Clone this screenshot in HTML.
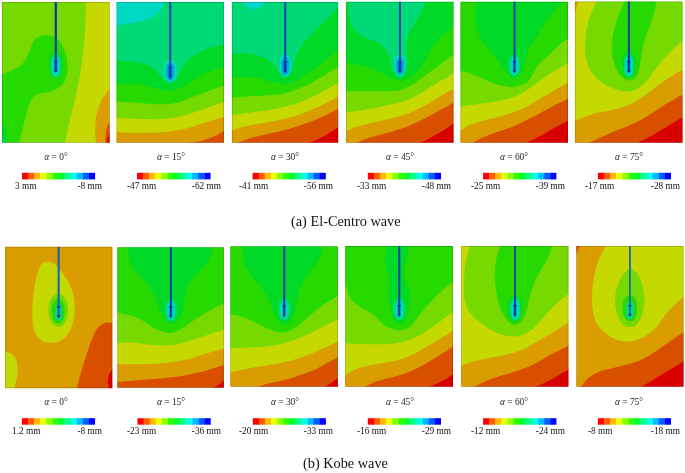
<!DOCTYPE html>
<html><head><meta charset="utf-8"><title>Displacement contours</title>
<style>
html,body{margin:0;padding:0;background:#fff}
body{width:685px;height:473px;position:relative;overflow:hidden;font-family:"Liberation Serif",serif;color:#111}
svg{position:absolute;left:0;top:0}
.a,.v,.c{will-change:transform;opacity:.999}
.a{position:absolute;font-size:9.4px;line-height:10px;white-space:nowrap;transform:translateX(-50%);color:#222}
.a i{font-style:italic}
.v{position:absolute;font-size:9.3px;line-height:10px;white-space:nowrap;color:#111}
.r{transform:translateX(-100%)}
.c{position:absolute;font-size:14.3px;line-height:16px;white-space:nowrap;color:#111}
</style></head><body>
<svg width="685" height="473" viewBox="0 0 685 473">
<defs>
<clipPath id="k0"><rect x="2" y="2" width="107.7" height="140.8"/></clipPath>
<clipPath id="k1"><rect x="116.5" y="2" width="107.5" height="140.8"/></clipPath>
<clipPath id="k2"><rect x="231.9" y="2" width="106.3" height="140.8"/></clipPath>
<clipPath id="k3"><rect x="346.1" y="1.7" width="107.5" height="141.1"/></clipPath>
<clipPath id="k4"><rect x="460.4" y="1.7" width="107.6" height="141.1"/></clipPath>
<clipPath id="k5"><rect x="574.9" y="1.5" width="107.7" height="141.3"/></clipPath>
<clipPath id="k6"><rect x="5" y="246.7" width="107.4" height="141.5"/></clipPath>
<clipPath id="k7"><rect x="117.3" y="247.2" width="106.6" height="140.5"/></clipPath>
<clipPath id="k8"><rect x="230.3" y="246.3" width="107.6" height="140.5"/></clipPath>
<clipPath id="k9"><rect x="345.2" y="246.1" width="107.8" height="140.7"/></clipPath>
<clipPath id="k10"><rect x="461.2" y="246" width="107.3" height="140.8"/></clipPath>
<clipPath id="k11"><rect x="576.3" y="246" width="107.3" height="140.8"/></clipPath>
<filter id="b" x="-5%" y="-5%" width="110%" height="110%"><feGaussianBlur stdDeviation="0.45"/></filter>
<filter id="b2" x="-30%" y="-30%" width="160%" height="160%"><feGaussianBlur stdDeviation="0.7"/></filter>
<filter id="b3" x="-50%" y="-5%" width="200%" height="110%"><feGaussianBlur stdDeviation="0.22"/></filter>
</defs>
<g clip-path="url(#k0)"><g filter="url(#b)"><rect x="-1" y="-1" width="113.7" height="146.8" fill="#76D900"/><path d="M86.6 -6C86.5 -3.3 86.6 -4.3 86.3 2C86 8.3 85.8 21.5 85 31.7C84.2 41.9 83.3 52.8 81.8 63.4C80.3 74 78.1 85.6 76.1 95.1C74.1 104.6 71.6 112.6 69.8 120.5C68 128.4 66.1 137.7 65 142.7C63.9 147.7 63.9 147.9 63.3 150.5L63.3 152.8 L119.7 152.8 L119.7 -8 L86.6 -8 Z" fill="#C5D900"/><path d="M114.2 82.2C112.6 84.4 111.8 85.6 109.6 88.8C107.4 92 103 96.8 100.8 101.5C98.5 106.2 97 112 96.1 117.3C95.1 122.6 95 129 95.1 133.2C95.2 137.4 96.2 139.8 96.7 142.7C97.2 145.6 97.6 148 98 150.6L119.7 152.8 Z" fill="#D99D00"/><path d="M112.7 114.6C111.7 117.1 110.7 119.4 109.6 122C108.5 124.6 106.9 126.5 106.2 130C105.5 133.4 105.5 139.3 105.3 142.7C105.1 146.1 104.9 148 104.7 150.7L119.7 152.8 Z" fill="#D94F00"/><path d="M112.8 126.2C111.8 128.6 110.5 131.5 109.6 133.5C108.7 135.5 108.1 136.5 107.6 138C107.1 139.5 107.2 140.6 106.8 142.7C106.4 144.8 105.9 148 105.5 150.6L119.7 152.8 Z" fill="#D90000"/><path d="M-5.6 78.8C-3.2 77.6 -1.3 76.7 1.6 75.3C4.5 73.9 8.6 72.1 12 70.3C15.4 68.5 19.2 67.3 22.1 64.3C25 61.3 27.1 56.2 29.1 52.2C31.1 48.2 31.8 43 34.1 40.2C36.5 37.4 40.2 36 43.2 35.3C46.2 34.6 49.4 35 52.2 36.1C55.1 37.2 58.1 39.5 60.3 42.2C62.5 44.9 64.1 48.5 65.3 52.2C66.5 55.9 67.3 60.3 67.5 64.3C67.7 68.3 67.5 72.8 66.5 76.3C65.5 79.8 64.1 83 61.5 85.5C58.9 88 54.5 90.2 51 91.5C47.5 92.8 43.2 92.4 40.2 93.4C37.2 94.4 35 95.6 33.1 97.5C31.2 99.4 30.3 101.9 29.1 104.8C27.9 107.7 27.1 111.3 26.1 115C25.1 118.7 24.1 123.1 23.1 127C22.1 130.9 20.8 135.8 20.1 138.4C19.4 141 19.6 140.8 19.1 142.8C18.6 144.8 17.9 148 17.3 150.6L-8 152.8 Z" fill="#27D900"/><path d="M-2.7 117.5C-1.1 119.7 0.5 121.9 2 124C3.5 126.1 5.4 126.9 6.3 130C7.2 133.1 7 139.3 7.2 142.7C7.4 146.1 7.6 148 7.8 150.7L-8 152.8 Z" fill="#00D927"/><path d="M-1.8 128.9C-0.5 131.3 1.1 134.3 2 136C2.9 137.7 3.3 137.9 3.6 139C3.9 140.1 3.7 140.8 3.8 142.7C3.9 144.6 4.1 148 4.2 150.7L-8 152.8 Z" fill="#00D976"/></g><g filter="url(#b2)"><rect x="49.2" y="51.7" width="13.2" height="26.2" rx="6.6" ry="9.6" fill="#00D927"/><rect x="50.6" y="54.8" width="10.4" height="22.4" rx="5.2" ry="7.5" fill="#00D976"/><rect x="51.8" y="57.4" width="8" height="19" rx="4" ry="5.8" fill="#00D9C5" fill-opacity="0.8"/><rect x="53.8" y="61" width="4" height="11.2" rx="2" ry="2.9" fill="#009DD9" fill-opacity="0.6"/></g><g filter="url(#b3)"><rect x="54.7" y="0" width="2.2" height="71.3" fill="#0A36A6"/><rect x="55.9" y="0" width="0.9" height="60.8" fill="#1148BE"/><path d="M53.8 69.8 L57.8 69.8 L55.8 73 Z" fill="#0A2A8C"/><path d="M53.7 60.8 L57.9 60.8 L57 62.6 L54.6 62.6 Z" fill="#0A2A8C"/></g><rect x="2.3" y="2.3" width="107.1" height="140.2" fill="none" stroke="#000" stroke-opacity="0.22" stroke-width="0.8"/></g>
<g clip-path="url(#k1)"><g filter="url(#b)"><rect x="113.5" y="-1" width="113.5" height="146.8" fill="#00D976"/><path d="M108.4 26.7C111 26.3 111.8 26.2 116.3 25.4C120.8 24.6 129.6 23.5 135.4 22.2C141.2 20.9 147 19.5 151.2 17.4C155.4 15.3 158.5 12.1 160.7 9.5C162.9 6.9 163.3 4.1 164.5 1.6C165.7 -0.9 166.8 -3.2 168 -5.6L106.5 -8 Z" fill="#00D9C5"/><path d="M106.5 61C109.8 61 112.4 60.9 116.3 61C120.2 61.1 125.5 60.9 130.1 61.4C134.7 61.9 140.1 62.8 144.1 64.1C148.1 65.4 151.3 66.9 154.2 69.1C157 71.3 159.1 74.9 161.2 77.1C163.3 79.3 164.9 81.1 166.6 82.1C168.3 83.1 169.6 83.6 171.2 83.3C172.8 83 174.8 82 176.3 80.1C177.8 78.2 179 74.8 180.3 72.1C181.6 69.4 182.6 66.4 184.3 64.1C186 61.7 187.6 60 190.3 58C193 56 197 53.8 200.4 52C203.8 50.2 207.1 48.8 211 47.5C214.9 46.2 220 44.9 223.8 44.4C227.6 43.9 230.6 44.4 234 44.4L234 152.8 L106.5 152.8 Z" fill="#00D927"/><path d="M106.5 84.1C109.8 84.1 112.4 84.2 116.3 84.1C120.2 84 125.5 83.5 130.1 83.7C134.7 83.9 139.4 84.2 144.1 85.1C148.8 86 153.8 88.2 158.2 89.2C162.5 90.2 166.5 91.4 170.2 91.2C173.9 91 177 89.7 180.3 88.2C183.7 86.7 187 84.1 190.3 82.1C193.7 80.1 197.1 77.9 200.4 76.1C203.8 74.3 206.5 72.6 210.4 71.1C214.3 69.6 220 67.8 223.9 67.1C227.8 66.4 230.6 67.1 234 67.1L234 152.8 L106.5 152.8 Z" fill="#27D900"/><path d="M106.5 101.8C109.8 101.8 111.7 101.7 116.3 101.8C120.9 101.9 127.8 102.2 134.1 102.6C140.4 103 148.2 104 154.2 104.2C160.2 104.4 165.5 104.3 170.2 103.8C174.9 103.3 178.3 102.4 182.3 101.2C186.3 100 190.3 98.2 194.3 96.6C198.3 95 201.5 93.6 206.4 91.8C211.3 90 219.3 86.8 223.9 85.8C228.5 84.8 230.6 85.8 234 85.8L234 152.8 L106.5 152.8 Z" fill="#76D900"/><path d="M106.5 117.9C109.8 117.9 111.7 117.8 116.3 117.9C120.9 118 127.8 118.5 134.1 118.7C140.4 118.9 148.2 119.4 154.2 119.3C160.2 119.2 165.5 118.9 170.2 118.3C174.9 117.7 178.3 116.9 182.3 115.9C186.3 114.9 190.3 113.6 194.3 112.3C198.3 111 201.5 109.9 206.4 108.2C211.3 106.5 219.3 103.2 223.9 102.2C228.5 101.2 230.6 102.2 234 102.2L234 152.8 L106.5 152.8 Z" fill="#C5D900"/><path d="M106.5 131.9C109.8 131.9 111.7 131.8 116.3 131.9C120.9 132 127.8 132.6 134.1 132.7C140.4 132.8 148.2 132.9 154.2 132.7C160.2 132.5 165.5 131.9 170.2 131.3C174.9 130.7 178.3 130.1 182.3 129.3C186.3 128.5 190.3 127.5 194.3 126.3C198.3 125.1 201.5 123.8 206.4 122.3C211.3 120.8 219.3 118.1 223.9 117.3C228.5 116.5 230.6 117.3 234 117.3L234 152.8 L106.5 152.8 Z" fill="#D99D00"/><path d="M180.4 143.9C183 143.5 185.3 143.2 188.3 142.8C191.3 142.4 195.1 142.1 198.4 141.4C201.8 140.7 205.4 139.4 208.4 138.4C211.4 137.4 213.8 136.6 216.4 135.4C219 134.2 221.5 132.6 223.9 131.3C226.3 130 228.6 128.7 230.9 127.5L234 152.8 Z" fill="#D94F00"/></g><g filter="url(#b2)"><rect x="164.3" y="59.8" width="11.8" height="22" rx="5.9" ry="8.6" fill="#00D9C5"/><rect x="166.2" y="62.5" width="8" height="18" rx="4" ry="5.8" fill="#009DD9" fill-opacity="0.8"/><rect x="168.3" y="66.6" width="3.8" height="9.6" rx="1.9" ry="2.8" fill="#004FD9" fill-opacity="0.6"/></g><g filter="url(#b3)"><rect x="169.3" y="0" width="1.8" height="77.3" fill="#0A36A6"/><rect x="170.3" y="0" width="0.8" height="66.8" fill="#1148BE"/><path d="M168.4 75.8 L172 75.8 L170.2 79 Z" fill="#0A2A8C"/><path d="M168.3 66.8 L172.1 66.8 L171.2 68.6 L169.2 68.6 Z" fill="#0A2A8C"/></g><rect x="116.8" y="2.3" width="106.9" height="140.2" fill="none" stroke="#000" stroke-opacity="0.22" stroke-width="0.8"/></g>
<g clip-path="url(#k2)"><g filter="url(#b)"><rect x="228.9" y="-1" width="112.3" height="146.8" fill="#00D976"/><path d="M237.1 -4.4C238.9 -2.4 240.7 -0.3 242.4 1.6C244.1 3.5 245.1 5.8 247.2 7C249.3 8.2 252.6 9.1 255.1 8.9C257.6 8.7 260.8 6.9 262.4 5.7C264 4.5 263.6 3.5 264.6 1.6C265.6 -0.3 267.1 -3.1 268.4 -5.4L268.4 -8 L237.1 -8 Z" fill="#00D9C5"/><path d="M221.9 53.9C225.3 53.9 227.2 53.9 232 53.9C236.8 53.9 244.7 53.1 250.4 53.9C256.1 54.7 262 56.6 266.2 58.7C270.4 60.8 273.3 64 275.7 66.6C278.1 69.2 278.9 72.6 280.5 74.5C282.1 76.4 283.7 78 285.3 78C286.9 78 288.7 76.4 290 74.5C291.3 72.6 292.1 69.8 293.2 66.6C294.3 63.4 294.5 59.7 296.4 55.5C298.2 51.3 300.9 45.7 304.3 41.2C307.7 36.7 312.8 32.7 317 28.5C321.2 24.3 326.2 19.3 329.7 15.9C333.2 12.5 335.1 9.2 338.2 7.9C341.3 6.6 344.9 7.9 348.2 7.9L348.2 152.8 L221.9 152.8 Z" fill="#00D927"/><path d="M221.9 77.7C225.3 77.7 228.1 77.8 232 77.7C235.9 77.6 240.6 77 245.1 77.1C249.6 77.2 254.4 77.7 259.1 78.5C263.8 79.3 268.9 81.2 273.2 82.1C277.5 83 281.5 84.3 285.2 84.1C288.9 83.9 291.9 82.6 295.3 81.1C298.7 79.6 302 77.3 305.3 75.1C308.6 72.9 312 70.6 315.4 68.1C318.8 65.6 322.4 62.4 325.4 60C328.4 57.6 331.2 55.5 333.4 54C335.6 52.5 336 51.5 338.5 51C341 50.5 345 51 348.2 51L348.2 152.8 L221.9 152.8 Z" fill="#27D900"/><path d="M221.9 97.8C225.3 97.8 227.5 98.1 232 97.8C236.5 97.5 242.9 96.6 249.1 96.2C255.3 95.8 263.2 95.7 269.2 95.2C275.2 94.7 280.5 94.2 285.2 93.2C289.9 92.2 293.3 90.7 297.3 89.2C301.3 87.7 305.3 86.1 309.3 84.1C313.3 82.1 317.4 79.4 321.4 77.1C325.4 74.8 330.5 71.8 333.4 70.1C336.2 68.4 336 67.6 338.5 67.1C341 66.6 345 67.1 348.2 67.1L348.2 152.8 L221.9 152.8 Z" fill="#76D900"/><path d="M221.9 114.7C225.3 114.7 227.5 115 232 114.7C236.5 114.4 242.9 113.5 249.1 112.7C255.3 111.9 263.2 110.9 269.2 109.9C275.2 108.9 280.5 107.7 285.2 106.6C289.9 105.5 293.3 104.6 297.3 103.2C301.3 101.8 305.3 100 309.3 98.2C313.3 96.4 317.4 94.3 321.4 92.2C325.4 90.1 330.5 87.3 333.4 85.8C336.2 84.3 336 83.5 338.5 83.1C341 82.6 345 83.1 348.2 83.1L348.2 152.8 L221.9 152.8 Z" fill="#C5D900"/><path d="M221.9 130.3C225.3 130.3 228.8 130.8 232 130.3C235.2 129.8 237.5 128.2 241 127.3C244.5 126.4 248.4 125.6 253.1 124.7C257.8 123.8 263.8 122.9 269.2 121.9C274.6 120.9 280.5 119.8 285.2 118.7C289.9 117.6 293.3 116.6 297.3 115.3C301.3 114 305.3 112.4 309.3 110.7C313.3 109 317.4 107.1 321.4 105.2C325.4 103.3 330.5 100.6 333.4 99.2C336.2 97.8 336 97 338.5 96.6C341 96.2 345 96.6 348.2 96.6L348.2 152.8 L221.9 152.8 Z" fill="#D99D00"/><path d="M229.5 145.5C232 144.6 233.7 144 237 142.8C240.3 141.6 245.1 139.6 249.1 138.4C253.1 137.2 257.1 136.4 261.1 135.4C265.1 134.4 269.2 133.6 273.2 132.7C277.2 131.8 281.2 131 285.2 129.9C289.2 128.8 293.3 127.6 297.3 126.3C301.3 125 305.3 123.8 309.3 122.3C313.3 120.8 317.4 119.1 321.4 117.3C325.4 115.5 330.5 112.8 333.4 111.3C336.2 109.8 336.5 109.7 338.5 108.6C340.5 107.5 343.2 106.1 345.6 104.9L348.2 152.8 Z" fill="#D94F00"/><path d="M300.8 145.6C303.3 144.7 305.5 143.8 308.3 142.8C311.1 141.8 314.5 140.6 317.4 139.4C320.2 138.2 322.7 136.9 325.4 135.4C328.1 133.9 331.2 131.7 333.4 130.3C335.6 129 336.5 128.5 338.5 127.3C340.5 126.1 343.1 124.6 345.4 123.2L348.2 152.8 Z" fill="#D90000"/></g><g filter="url(#b2)"><rect x="279.3" y="54.3" width="11.8" height="22" rx="5.9" ry="8.6" fill="#00D9C5"/><rect x="281.2" y="57" width="8" height="18" rx="4" ry="5.8" fill="#009DD9" fill-opacity="0.8"/><rect x="283.3" y="61.1" width="3.8" height="9.6" rx="1.9" ry="2.8" fill="#004FD9" fill-opacity="0.6"/></g><g filter="url(#b3)"><rect x="284.3" y="0" width="1.8" height="71.8" fill="#0A36A6"/><rect x="285.4" y="0" width="0.8" height="61.3" fill="#1148BE"/><path d="M283.4 70.3 L287 70.3 L285.2 73.5 Z" fill="#0A2A8C"/><path d="M283.3 61.3 L287.1 61.3 L286.2 63.1 L284.2 63.1 Z" fill="#0A2A8C"/></g><rect x="232.2" y="2.3" width="105.7" height="140.2" fill="none" stroke="#000" stroke-opacity="0.22" stroke-width="0.8"/></g>
<g clip-path="url(#k3)"><g filter="url(#b)"><rect x="343.1" y="-1.3" width="113.5" height="147.1" fill="#00D927"/><path d="M348.8 -6.4C348.9 -3.7 348.9 -2.1 348.9 1.6C348.9 5.3 348.5 12 349 16.1C349.5 20.2 350.3 23.1 352 26.1C353.7 29.1 356.2 31.9 359.1 34.1C362 36.3 365.8 37.7 369.1 39.2C372.5 40.7 376.4 41.4 379.2 43.2C382 45 384.4 47.4 386.2 50.2C388 53.1 389 56.9 390.2 60.3C391.4 63.6 391.6 67.4 393.2 70.3C394.8 73.2 397.7 78.1 399.8 77.8C401.9 77.5 404.8 71.9 406 68.3C407.2 64.7 406.8 60.2 406.9 56.2C407 52.2 406.1 48.2 406.5 44.2C406.9 40.2 407.8 35.8 409.3 32.1C410.8 28.4 413.1 25.8 415.3 22.1C417.5 18.4 420.6 13.4 422.3 10C424 6.6 424.6 4.2 425.6 1.6C426.6 -1 427.6 -3.4 428.5 -5.8L428.5 -8.3 L348.8 -8.3 Z" fill="#00D976"/><path d="M336.1 62.5C339.5 62.5 342.5 62.1 346.3 62.5C350.1 62.9 354.6 64 359.1 65.1C363.6 66.2 368.4 67.3 373.1 69.1C377.8 70.9 382.9 74.2 387.2 76.1C391.5 78 396 80 399.2 80.5C402.4 81 403.9 79.9 406.3 79C408.7 78.1 411 77.1 413.3 75.3C415.6 73.5 418.1 71.1 420.3 68.3C422.5 65.5 424.4 61.7 426.4 58.2C428.4 54.7 429.7 50.8 432.2 47.2C434.7 43.6 437.8 39.9 441.5 36.6C445.2 33.3 450.5 28.9 454.2 27.3C457.9 25.8 460.5 27.3 463.6 27.3L463.6 152.8 L336.1 152.8 Z" fill="#27D900"/><path d="M336.1 91.2C339.5 91.2 341.8 91.2 346.3 91.2C350.8 91.2 357 91.2 363.1 91.2C369.2 91.2 377.2 91.4 383.2 91.2C389.2 91 394.5 91.2 399.2 90.2C403.9 89.2 407.3 87.3 411.3 85.1C415.3 82.9 419.3 79.9 423.3 77.1C427.3 74.3 431.4 71.1 435.4 68.1C439.4 65.1 444.3 61.2 447.4 59C450.5 56.8 451.4 55.7 454.1 55C456.8 54.3 460.4 55 463.6 55L463.6 152.8 L336.1 152.8 Z" fill="#76D900"/><path d="M336.1 112.3C339.5 112.3 341.8 112.7 346.3 112.3C350.8 111.9 357 110.9 363.1 109.9C369.2 108.9 377.2 107.4 383.2 106.2C389.2 105 394.5 103.9 399.2 102.6C403.9 101.3 407.3 100 411.3 98.2C415.3 96.4 419.3 94.2 423.3 91.8C427.3 89.4 431.4 86.5 435.4 84.1C439.4 81.6 444.3 78.9 447.4 77.1C450.5 75.3 451.4 73.8 454.1 73.1C456.8 72.4 460.4 73.1 463.6 73.1L463.6 152.8 L336.1 152.8 Z" fill="#C5D900"/><path d="M336.1 131.3C339.5 131.3 343.2 132 346.3 131.3C349.4 130.6 351.5 128.5 355 127.3C358.5 126.1 362.4 125.1 367.1 123.9C371.8 122.7 377.9 121.6 383.2 120.3C388.5 119 394.5 117.7 399.2 116.3C403.9 114.9 407.3 113.6 411.3 111.9C415.3 110.2 419.3 108.3 423.3 106.2C427.3 104.1 431.4 101.5 435.4 99.2C439.4 96.9 444.3 93.9 447.4 92.2C450.5 90.5 451.4 89.7 454.1 89.2C456.8 88.7 460.4 89.2 463.6 89.2L463.6 152.8 L336.1 152.8 Z" fill="#D99D00"/><path d="M348.6 145.7C351 144.8 352.9 144 356 142.8C359.1 141.6 362.6 139.9 367.1 138.4C371.6 136.9 377.9 135.5 383.2 134C388.5 132.5 394.5 130.9 399.2 129.3C403.9 127.8 407.3 126.4 411.3 124.7C415.3 123 419.3 121.3 423.3 119.3C427.3 117.3 431.4 114.9 435.4 112.7C439.4 110.5 444.3 107.9 447.4 106.2C450.5 104.5 451.8 103.8 454.1 102.6C456.4 101.4 458.8 100.1 461.1 98.8L463.6 152.8 Z" fill="#D94F00"/><path d="M413.1 146.3C415.5 145.1 417.6 144.1 420.3 142.8C423 141.5 426.2 140.1 429.4 138.4C432.6 136.7 436.4 134.4 439.4 132.7C442.4 130.9 444.9 129.5 447.4 127.9C449.8 126.3 451.9 124.8 454.1 123.3C456.3 121.8 458.5 120.3 460.7 118.8L463.6 152.8 Z" fill="#D90000"/></g><g filter="url(#b2)"><rect x="394.1" y="54.3" width="11.8" height="22" rx="5.9" ry="8.6" fill="#00D9C5"/><rect x="396" y="57" width="8" height="18" rx="4" ry="5.8" fill="#009DD9" fill-opacity="0.8"/><rect x="398.1" y="61.1" width="3.8" height="9.6" rx="1.9" ry="2.8" fill="#004FD9" fill-opacity="0.6"/></g><g filter="url(#b3)"><rect x="399.1" y="-0.3" width="1.7" height="72.1" fill="#0A36A6"/><rect x="400.1" y="-0.3" width="0.7" height="61.6" fill="#1148BE"/><path d="M398.2 70.3 L401.7 70.3 L399.9 73.5 Z" fill="#0A2A8C"/><path d="M398.1 61.3 L401.8 61.3 L400.9 63.1 L399 63.1 Z" fill="#0A2A8C"/></g><rect x="346.4" y="2" width="106.9" height="140.5" fill="none" stroke="#000" stroke-opacity="0.22" stroke-width="0.8"/></g>
<g clip-path="url(#k4)"><g filter="url(#b)"><rect x="457.4" y="-1.3" width="113.6" height="147.1" fill="#27D900"/><path d="M478 -6.4C477.7 -3.7 477.5 -2.1 477.1 1.6C476.7 5.3 475.5 11.4 475.5 16.1C475.5 20.9 475.8 25.8 477.1 30.1C478.4 34.5 480.7 38.5 483.1 42.2C485.6 45.9 489 48.9 491.8 52.2C494.6 55.6 497.5 59.1 499.8 62.3C502.1 65.5 503.4 68.6 505.8 71.3C508.2 74 511.4 78.8 514.2 78.6C517 78.4 520.8 73.7 522.8 70.3C524.8 66.9 524.8 62.2 526 58.2C527.2 54.2 528.4 50.3 530.2 46.6C532 42.9 534.7 39.8 536.9 36.1C539.1 32.5 540.8 28.6 543.5 24.7C546.2 20.8 549.9 16.2 553 12.4C556.1 8.6 559.9 4.4 562.3 1.6C564.7 -1.2 565.8 -2.4 567.5 -4.5L567.5 -8.3 L478 -8.3 Z" fill="#00D927"/><path d="M450.4 71.1C453.7 71.1 455.9 70.3 460.4 71.1C464.8 71.9 471.6 74.1 477.1 76.1C482.6 78.1 488.2 81.3 493.2 83.1C498.2 84.8 503.2 86.1 507.2 86.6C511.2 87.1 513.9 86.9 517.3 86.2C520.6 85.5 524.8 84.2 527.3 82.3C529.8 80.3 530.5 77.6 532.5 74.5C534.5 71.4 536.8 66.8 539.5 63.6C542.2 60.4 545.8 58.2 549 55.2C552.2 52.2 555.3 48.4 558.5 45.7C561.7 43 565 39.9 568.2 38.8C571.5 37.6 574.7 38.8 578 38.8L578 152.8 L450.4 152.8 Z" fill="#76D900"/><path d="M450.4 106.2C453.7 106.2 455.9 106.5 460.4 106.2C464.8 105.9 471 105 477.1 104.2C483.2 103.4 491.2 102.4 497.2 101.2C503.2 100 508.5 98.9 513.2 97.2C517.9 95.5 521.3 93.6 525.3 91.2C529.3 88.8 533.3 85.9 537.3 83.1C541.3 80.2 545.4 76.8 549.4 74.1C553.4 71.4 558.3 68.9 561.4 67.1C564.5 65.3 565.4 63.9 568.2 63.3C571 62.7 574.7 63.3 578 63.3L578 152.8 L450.4 152.8 Z" fill="#C5D900"/><path d="M450.4 130.3C453.7 130.3 457.3 131.1 460.4 130.3C463.5 129.5 465.6 126.8 469 125.3C472.4 123.8 476.4 122.6 481.1 121.3C485.8 120 491.8 118.8 497.2 117.3C502.6 115.8 508.5 114 513.2 112.3C517.9 110.6 521.3 109.2 525.3 107.2C529.3 105.2 533.3 102.5 537.3 100.2C541.3 97.9 545.4 95.5 549.4 93.2C553.4 90.9 558.3 87.9 561.4 86.2C564.5 84.5 565.4 83.4 568.2 82.8C571 82.2 574.7 82.8 578 82.8L578 152.8 L450.4 152.8 Z" fill="#D99D00"/><path d="M464.9 146.3C467.3 145.2 468.7 144.5 472.1 142.8C475.5 141.1 480.9 138.2 485.1 136.4C489.3 134.6 493.2 133.3 497.2 131.9C501.2 130.5 505.2 129.4 509.2 127.9C513.2 126.4 517.3 124.6 521.3 122.7C525.3 120.8 529.3 118.8 533.3 116.7C537.3 114.6 541.4 112.5 545.4 110.3C549.4 108.1 553.6 105.7 557.4 103.8C561.2 101.9 565.2 100.3 568.2 98.9C571.2 97.5 573.1 96.7 575.5 95.6L578 152.8 Z" fill="#D94F00"/><path d="M519.1 146.3C521.5 145.2 523.3 144.3 526.3 142.8C529.3 141.3 533.8 139.2 537.3 137.4C540.8 135.6 544 133.8 547.4 131.9C550.8 130.1 553.9 128.1 557.4 126.3C560.9 124.5 565.2 122.5 568.2 121C571.2 119.5 573 118.7 575.4 117.5L578 152.8 Z" fill="#D90000"/></g><g filter="url(#b2)"><rect x="508.5" y="54.3" width="11.8" height="22" rx="5.9" ry="8.6" fill="#00D976"/><rect x="510.4" y="57" width="8" height="18" rx="4" ry="5.8" fill="#00D9C5" fill-opacity="0.8"/><rect x="512.5" y="61.1" width="3.8" height="9.6" rx="1.9" ry="2.8" fill="#009DD9" fill-opacity="0.6"/></g><g filter="url(#b3)"><rect x="513.6" y="-0.3" width="1.7" height="72.1" fill="#0A36A6"/><rect x="514.6" y="-0.3" width="0.7" height="61.6" fill="#1148BE"/><path d="M512.7 70.3 L516.2 70.3 L514.5 73.5 Z" fill="#0A2A8C"/><path d="M512.6 61.3 L516.3 61.3 L515.4 63.1 L513.5 63.1 Z" fill="#0A2A8C"/></g><rect x="460.7" y="2" width="107" height="140.5" fill="none" stroke="#000" stroke-opacity="0.22" stroke-width="0.8"/></g>
<g clip-path="url(#k5)"><g filter="url(#b)"><rect x="571.9" y="-1.5" width="113.7" height="147.3" fill="#C5D900"/><path d="M570 -4 L579.2 -4 L578.8 1.6 L576.8 7.5 L575.2 12.5 L570 14Z" fill="#D99D00"/><path d="M599.6 -5.7C598.5 -3.3 598 -2 596.4 1.6C594.8 5.2 591.8 11 590.1 16.1C588.4 21.2 586.9 26.8 586.1 32.1C585.3 37.5 584.9 43.2 585.1 48.2C585.3 53.2 585.8 57.9 587.1 62.3C588.4 66.6 590.4 70.8 593.1 74.3C595.8 77.8 599.2 80.9 603.1 83.4C607 85.9 612 88.1 616.2 89.4C620.4 90.7 624.5 91.6 628.2 91.4C631.9 91.2 635.1 90.2 638.3 88.4C641.5 86.6 644.4 83.5 647.3 80.3C650.1 77.1 652.5 73 655.4 69.3C658.2 65.6 661.2 61.7 664.4 58.2C667.6 54.7 671.3 51.2 674.4 48.2C677.5 45.2 680.3 42.7 682.7 40.5C685.1 38.3 686.6 36.9 688.6 35.1L692.6 -8.5 Z" fill="#76D900"/><path d="M627.7 -5.8C626.7 -3.3 626.3 -2.5 624.6 1.6C622.9 5.7 619.3 12.9 617.3 19C615.3 25.1 613.4 31.6 612.6 38C611.8 44.4 611.8 51.5 612.6 57.1C613.4 62.7 615.2 67.7 617.3 71.4C619.4 75.2 622.6 78.2 625.3 79.6C627.9 81 631 81 633.2 79.6C635.4 78.2 637.3 75.2 638.6 71.4C639.9 67.7 640.2 62.1 641.1 57.1C642 52.1 642.8 46.5 644.3 41.2C645.8 35.9 648.3 30.4 650 25.4C651.7 20.4 653.7 15.1 654.7 11.1C655.7 7.1 655.6 4.5 656 1.6C656.4 -1.3 656.7 -3.7 657.1 -6.3L657.1 -8.5 L627.7 -8.5 Z" fill="#27D900"/><path d="M564.9 120.7C568.3 120.7 571.5 121.4 575 120.7C578.5 120 582.2 117.6 586.1 116.3C590 115 594.1 113.7 598.1 112.7C602.1 111.7 606.2 111.2 610.2 110.3C614.2 109.4 618.2 108.5 622.2 107.2C626.2 105.9 630.3 104.3 634.3 102.2C638.3 100.1 642.3 97.4 646.3 94.6C650.3 91.8 654.4 88 658.4 85.1C662.4 82.2 666.4 79.6 670.4 77.1C674.4 74.6 678.8 71.3 682.5 70.1C686.2 68.9 689.2 70.1 692.6 70.1L692.6 152.8 L564.9 152.8 Z" fill="#D99D00"/><path d="M581.7 146.1C584.2 145 585.6 144.4 589 142.8C592.4 141.2 597.9 138.7 602.1 136.8C606.3 134.9 610.2 133 614.2 131.3C618.2 129.6 622.2 128.4 626.2 126.7C630.2 125 634.3 123.4 638.3 121.3C642.3 119.2 646.3 116.8 650.3 114.3C654.3 111.8 658.4 108.7 662.4 106.2C666.4 103.7 671 101.1 674.4 99.2C677.8 97.3 680 96 682.5 94.6C685 93.2 687.1 92 689.5 90.6L692.6 152.8 Z" fill="#D94F00"/><path d="M630.1 146.3C632.5 145.2 633.9 144.5 637.3 142.8C640.7 141.1 646.1 138.7 650.3 136.4C654.5 134.2 658.4 131.7 662.4 129.3C666.4 127 671 124.3 674.4 122.3C677.8 120.3 680 118.8 682.5 117.3C685 115.8 687 114.5 689.3 113.1L692.6 152.8 Z" fill="#D90000"/></g><g filter="url(#b2)"><rect x="622.2" y="51.4" width="13.2" height="26.2" rx="6.6" ry="9.6" fill="#00D927"/><rect x="623.6" y="54.5" width="10.4" height="22.4" rx="5.2" ry="7.5" fill="#00D976"/><rect x="624.8" y="57.1" width="8" height="19" rx="4" ry="5.8" fill="#00D9C5" fill-opacity="0.8"/><rect x="626.8" y="60.7" width="4" height="11.2" rx="2" ry="2.9" fill="#009DD9" fill-opacity="0.6"/></g><g filter="url(#b3)"><rect x="627.9" y="-0.5" width="1.9" height="72.3" fill="#0A36A6"/><rect x="629" y="-0.5" width="0.8" height="61.8" fill="#1148BE"/><path d="M627 70.3 L630.7 70.3 L628.9 73.5 Z" fill="#0A2A8C"/><path d="M626.9 61.3 L630.8 61.3 L629.9 63.1 L627.8 63.1 Z" fill="#0A2A8C"/></g><rect x="575.2" y="1.8" width="107.1" height="140.7" fill="none" stroke="#000" stroke-opacity="0.22" stroke-width="0.8"/></g>
<g clip-path="url(#k6)"><g filter="url(#b)"><rect x="2" y="243.7" width="113.4" height="147.5" fill="#D99D00"/><path d="M47.6 261.7C45.5 261.8 43.1 261.7 41.2 264.2C39.4 266.7 37.8 271.6 36.5 276.9C35.2 282.2 34 289.6 33.3 295.9C32.6 302.2 32.1 309.1 32.3 314.9C32.4 320.7 32.7 326.6 34.2 330.8C35.7 335 38.2 338.3 41.2 340.3C44.2 342.3 48.6 343.1 52.3 342.8C56 342.5 60.2 341.2 63.4 338.7C66.6 336.2 69.6 332.1 71.4 327.6C73.2 323.1 74.1 317.1 74.5 311.8C74.9 306.5 74.6 300.9 73.6 295.9C72.5 290.9 70.4 285.8 68.2 281.6C66 277.4 62.7 273.5 60.3 270.5C57.9 267.5 56 265.1 53.9 263.6C51.8 262.1 49.7 261.6 47.6 261.7Z" fill="#C5D900"/><path d="M-2.9 349.6C-0.3 350.3 2.5 351.1 4.8 351.8C7.1 352.5 9.1 352.4 11 353.6C12.9 354.9 15 356.7 16.1 359.3C17.2 361.9 17.6 366 17.7 369.3C17.8 372.6 17 376.3 16.5 379.4C16 382.5 15.1 385.2 14.5 387.9C13.9 390.6 13.3 393.1 12.7 395.7L-5 398.2 Z" fill="#C5D900"/><path d="M120.6 322.9C117.9 322.9 115.2 322.9 112.6 322.9C109.9 322.9 107.3 321.8 104.7 322.9C102.1 323.9 99.1 325.8 96.7 329.2C94.3 332.6 92.5 337.9 90.4 343.5C88.3 349.1 85.8 356.7 84 362.5C82.2 368.3 80.5 374.2 79.3 378.4C78.1 382.6 77.8 385 77.1 387.9C76.4 390.8 75.9 393.1 75.3 395.7L122.4 398.2 Z" fill="#D94F00"/><path d="M117 362.1C115.6 364.4 113.9 366.9 112.6 368.8C111.3 370.7 110.2 371.5 109.4 373.6C108.6 375.7 107.9 379.1 107.8 381.5C107.7 383.9 108.6 385.5 109 387.9C109.4 390.3 110 393.1 110.5 395.8L122.4 398.2 Z" fill="#D90000"/></g><g filter="url(#b2)"><rect x="48.4" y="294" width="19.6" height="32.8" rx="9.8" ry="14.2" fill="#76D900"/><rect x="51.7" y="299.2" width="13" height="24" rx="6.5" ry="9.4" fill="#27D900"/><rect x="54.5" y="303.5" width="7.8" height="17.8" rx="3.9" ry="5.7" fill="#00D976" fill-opacity="0.8"/><rect x="56" y="306" width="5" height="13.6" rx="2.5" ry="3.6" fill="#00D9C5" fill-opacity="0.6"/></g><g filter="url(#b3)"><rect x="57.6" y="244.7" width="2" height="72.1" fill="#155CA8"/><rect x="58.7" y="244.7" width="0.8" height="61.6" fill="#2486B4"/><path d="M56.7 315.3 L60.5 315.3 L58.6 318.5 Z" fill="#0A2A8C"/><path d="M56.6 306.3 L60.6 306.3 L59.7 308.1 L57.5 308.1 Z" fill="#0A2A8C"/></g><rect x="5.3" y="247" width="106.8" height="140.9" fill="none" stroke="#000" stroke-opacity="0.22" stroke-width="0.8"/></g>
<g clip-path="url(#k7)"><g filter="url(#b)"><rect x="114.3" y="244.2" width="112.6" height="146.5" fill="#27D900"/><path d="M127.4 239.1C127.7 241.8 127.8 243.8 128.1 247.1C128.4 250.4 128.1 255.4 129.1 259.1C130.1 262.8 132.1 266.1 134.1 269.1C136.1 272.1 138.8 274.4 141.1 277.1C143.4 279.8 145.9 282.2 148.1 285.2C150.3 288.2 152.5 291.8 154.2 295.2C155.9 298.6 156.9 301.9 158.2 305.3C159.5 308.7 160.7 312.5 162.2 315.3C163.7 318.1 165.7 320.9 167.2 322.3C168.7 323.7 169.5 323.9 171.2 323.7C172.9 323.5 175.5 323.2 177.3 321.3C179.2 319.4 181.1 315.7 182.3 312.3C183.5 308.9 183.6 305.1 184.3 301.2C185 297.3 185 292.9 186.3 289.2C187.6 285.5 189.8 282.5 192.3 279.1C194.8 275.8 198.6 272.4 201.4 269.1C204.2 265.8 207.5 262.8 209.4 259.1C211.3 255.4 212 250.4 213 247.1C214 243.8 214.5 242 215.3 239.4L215.3 237.2 L127.4 237.2 Z" fill="#00D927"/><path d="M107.3 312.4C110.7 312.4 113.5 311.9 117.4 312.4C121.4 312.9 126.6 314.1 131 315.6C135.4 317.1 139.5 319 143.7 321.3C147.9 323.6 151.9 327.2 156.4 329.2C160.9 331.1 166.2 333.3 170.7 333C175.2 332.7 179.4 329.8 183.4 327.6C187.4 325.4 190 322.6 194.5 319.7C199 316.8 205.4 312.8 210.3 310.2C215.2 307.6 220 304.9 223.9 303.8C227.8 302.7 230.6 303.8 233.9 303.8L233.9 397.7 L107.3 397.7 Z" fill="#76D900"/><path d="M107.3 342.8C110.7 342.8 112.9 342.8 117.4 342.8C121.9 342.8 128.2 342.4 134.2 342.8C140.2 343.2 146.8 344.7 153.2 345.1C159.5 345.5 166 345.9 172.3 345.1C178.7 344.3 185 342.2 191.3 340.3C197.6 338.4 204.9 335.7 210.3 334C215.7 332.3 220 330.8 223.9 330.2C227.8 329.6 230.6 330.2 233.9 330.2L233.9 397.7 L107.3 397.7 Z" fill="#C5D900"/><path d="M107.3 364.3C110.7 364.3 112.8 364.3 117.4 364.3C122 364.3 128.8 364.4 135.1 364.3C141.4 364.2 149.2 364 155.2 363.7C161.2 363.4 166.5 362.9 171.2 362.3C175.9 361.7 179.3 361.2 183.3 360.3C187.3 359.4 191.3 358.1 195.3 356.9C199.3 355.7 202.6 354.5 207.4 353.2C212.2 351.9 219.6 349.5 224 348.8C228.4 348.1 230.6 348.8 233.9 348.8L233.9 397.7 L107.3 397.7 Z" fill="#D99D00"/><path d="M107.3 381.8C110.7 381.8 112.8 382 117.4 381.8C122 381.6 128.8 380.9 135.1 380.4C141.4 379.9 149.2 379.5 155.2 379C161.2 378.5 166.5 377.9 171.2 377.3C175.9 376.8 179.3 376.4 183.3 375.7C187.3 375 191.3 374.2 195.3 373.3C199.3 372.4 202.6 371.6 207.4 370.3C212.2 369 219.6 366.1 224 365.3C228.4 364.5 230.6 365.3 233.9 365.3L233.9 397.7 L107.3 397.7 Z" fill="#D94F00"/><path d="M206.5 391.5C208.8 390.2 211.3 388.8 213.5 387.6C215.7 386.4 218.1 385.4 219.8 384.1C221.5 382.8 222.3 381.6 223.9 380C225.5 378.4 227.7 376.2 229.6 374.3L233.9 397.7 Z" fill="#D90000"/></g><g filter="url(#b2)"><rect x="164.9" y="299.3" width="11.8" height="22" rx="5.9" ry="8.6" fill="#00D976"/><rect x="166.8" y="302" width="8" height="18" rx="4" ry="5.8" fill="#00D9C5" fill-opacity="0.8"/><rect x="168.9" y="306.1" width="3.8" height="9.6" rx="1.9" ry="2.8" fill="#009DD9" fill-opacity="0.6"/></g><g filter="url(#b3)"><rect x="169.9" y="245.2" width="1.7" height="71.6" fill="#0A36A6"/><rect x="170.9" y="245.2" width="0.7" height="61.1" fill="#1148BE"/><path d="M169 315.3 L172.5 315.3 L170.8 318.5 Z" fill="#0A2A8C"/><path d="M168.9 306.3 L172.6 306.3 L171.7 308.1 L169.8 308.1 Z" fill="#0A2A8C"/></g><rect x="117.6" y="247.5" width="106" height="139.9" fill="none" stroke="#000" stroke-opacity="0.22" stroke-width="0.8"/></g>
<g clip-path="url(#k8)"><g filter="url(#b)"><rect x="227.3" y="243.3" width="113.6" height="146.5" fill="#27D900"/><path d="M243.1 238.4C243.1 241.1 243.1 242.9 243.1 246.4C243.1 249.9 242.4 255.3 243.1 259.1C243.8 262.9 245.3 265.8 247.1 269.1C248.9 272.5 251.6 276 254.1 279.2C256.6 282.4 259.8 285 262.1 288.2C264.5 291.4 266.5 294.8 268.2 298.2C269.9 301.6 270.9 305.1 272.2 308.3C273.5 311.5 274.7 314.8 276.2 317.3C277.7 319.8 279.7 322.1 281.2 323.3C282.7 324.5 283.7 324.6 285.2 324.3C286.7 324 288.8 323.1 290.3 321.3C291.8 319.5 293.2 316.5 294.3 313.3C295.4 310.1 296 305.9 296.7 302.2C297.4 298.5 297.6 294.7 298.7 291.2C299.8 287.7 301.4 284.5 303.3 281.2C305.2 277.9 308 274.5 310.3 271.1C312.6 267.8 315.4 264.5 317.4 261.1C319.3 257.8 321.2 253.4 322 251C322.8 248.6 322.2 248.5 322.4 246.4C322.6 244.3 322.9 241.1 323.1 238.4L323.1 236.3 L243.1 236.3 Z" fill="#00D927"/><path d="M220.3 314.3C223.7 314.3 226.5 313.8 230.4 314.3C234.3 314.8 239.6 316.1 244 317.5C248.4 318.9 252.5 320.9 256.7 322.9C260.9 324.8 264.9 327.6 269.4 329.2C273.9 330.8 279.2 332.8 283.7 332.4C288.2 332 292.4 329.5 296.4 327C300.4 324.5 303.6 320.8 307.5 317.5C311.4 314.2 315.9 310.1 320.1 307C324.3 303.9 329.8 300.9 332.8 299.1C335.8 297.4 335.4 296.9 337.9 296.5C340.4 296.1 344.6 296.5 347.9 296.5L347.9 396.8 L220.3 396.8 Z" fill="#76D900"/><path d="M220.3 348.2C223.7 348.2 225.8 348.3 230.4 348.2C235 348.1 241.8 347.9 248.1 347.6C254.4 347.3 262.2 346.9 268.2 346.2C274.2 345.5 279.5 344.4 284.2 343.2C288.9 342 292.3 340.7 296.3 339.2C300.3 337.7 304.3 336 308.3 334.2C312.3 332.4 316.4 330.1 320.4 328.1C324.4 326.1 329.5 323.5 332.4 322.1C335.3 320.7 335.3 319.9 337.9 319.5C340.5 319.1 344.6 319.5 347.9 319.5L347.9 396.8 L220.3 396.8 Z" fill="#C5D900"/><path d="M220.3 372.3C223.7 372.3 227.1 372.6 230.4 372.3C233.7 372 236.4 371.1 240 370.3C243.6 369.5 247.4 368.5 252.1 367.7C256.8 366.9 262.8 366.2 268.2 365.3C273.6 364.4 279.5 363.4 284.2 362.3C288.9 361.2 292.3 360.1 296.3 358.9C300.3 357.7 304.3 356.4 308.3 354.9C312.3 353.3 316.4 351.4 320.4 349.6C324.4 347.8 329.5 345.5 332.4 344.2C335.3 342.9 335.3 342 337.9 341.6C340.5 341.2 344.6 341.6 347.9 341.6L347.9 396.8 L220.3 396.8 Z" fill="#D99D00"/><path d="M250.5 389C253 388.2 255.1 387.5 258.1 386.6C261.1 385.7 264.5 384.3 268.2 383.4C271.9 382.5 276.2 381.9 280.2 381C284.2 380.1 288.3 378.9 292.3 377.7C296.3 376.5 300.3 375.2 304.3 373.7C308.3 372.2 312.4 370.8 316.4 368.9C320.4 367 324.8 364.2 328.4 362.3C332 360.4 335.1 358.8 337.9 357.3C340.7 355.8 342.6 354.8 345 353.6L347.9 396.8 Z" fill="#D94F00"/><path d="M317.3 390.4C319.7 389.1 322.2 387.8 324.4 386.6C326.6 385.4 328.1 384.8 330.4 383.4C332.6 382 335.5 379.9 337.9 378.3C340.3 376.7 342.3 375.3 344.5 373.8L347.9 396.8 Z" fill="#D90000"/></g><g filter="url(#b2)"><rect x="278.3" y="298.4" width="11.8" height="22" rx="5.9" ry="8.6" fill="#00D976"/><rect x="280.2" y="301.1" width="8" height="18" rx="4" ry="5.8" fill="#00D9C5" fill-opacity="0.8"/><rect x="282.3" y="305.2" width="3.8" height="9.6" rx="1.9" ry="2.8" fill="#009DD9" fill-opacity="0.6"/></g><g filter="url(#b3)"><rect x="283.3" y="244.3" width="1.8" height="71.6" fill="#0A36A6"/><rect x="284.4" y="244.3" width="0.8" height="61.1" fill="#1148BE"/><path d="M282.4 314.4 L286 314.4 L284.2 317.6 Z" fill="#0A2A8C"/><path d="M282.3 305.4 L286.1 305.4 L285.2 307.2 L283.2 307.2 Z" fill="#0A2A8C"/></g><rect x="230.6" y="246.6" width="107" height="139.9" fill="none" stroke="#000" stroke-opacity="0.22" stroke-width="0.8"/></g>
<g clip-path="url(#k9)"><g filter="url(#b)"><rect x="342.2" y="243.1" width="113.8" height="146.7" fill="#27D900"/><path d="M390.3 238.4C389.6 241 389.1 243 388.2 246.1C387.3 249.2 385.4 253.3 385.2 257.1C385 260.9 386.1 265.4 386.8 269.1C387.5 272.8 389.2 275.9 389.4 279.2C389.6 282.5 388.3 285.5 388.2 289.2C388.1 292.9 388.3 297.2 388.8 301.2C389.3 305.2 390.1 309.8 391.2 313.3C392.3 316.8 394.1 320.6 395.6 322.3C397.1 324 398.6 323.8 400.2 323.5C401.8 323.2 403.9 322.3 405.3 320.3C406.7 318.3 407.6 314.8 408.3 311.3C409 307.8 409.3 302.9 409.3 299.2C409.3 295.5 409.1 292.5 408.3 289.2C407.5 285.9 405.3 282.5 404.5 279.2C403.7 275.9 403 272.5 403.4 269.1C403.8 265.8 406 262.9 406.9 259.1C407.8 255.3 408.4 249.6 408.9 246.1C409.4 242.6 409.7 240.8 410.1 238.2L410.1 236.1 L390.3 236.1 Z" fill="#00D927"/><path d="M335.2 286C338.6 286 343.4 285.6 345.4 286C347.4 286.4 346.1 286 347 288.2C347.9 290.4 348.6 296 351 299.2C353.4 302.4 357.8 304.9 361.1 307.3C364.5 309.7 368.1 311.1 371.1 313.3C374.1 315.5 376.7 318.1 379.2 320.3C381.7 322.5 383.5 324.7 386.2 326.3C388.9 327.9 392.3 329.2 395.2 329.8C398.1 330.4 400.8 330.4 403.3 329.8C405.8 329.2 408.1 328.1 410.3 326.3C412.5 324.6 414.1 322 416.3 319.3C418.5 316.6 420.8 313.3 423.3 310.3C425.8 307.3 428.4 304.4 431.4 301.2C434.4 298 437.8 294.4 441.4 291.2C445 288 449.3 283.7 452.9 282.2C456.5 280.7 459.6 282.2 463 282.2L463 396.8 L335.2 396.8 Z" fill="#76D900"/><path d="M335.2 343.2C338.6 343.2 340.8 343 345.4 343.2C350 343.4 356.8 344 363.1 344.2C369.4 344.4 377.2 344.4 383.2 344.2C389.2 344 394.5 343.6 399.2 342.8C403.9 342 407.3 340.8 411.3 339.2C415.3 337.6 419.3 335.5 423.3 333.2C427.3 330.9 431.4 328 435.4 325.1C439.4 322.2 444.5 318.2 447.4 316.1C450.3 314 450.3 313.3 452.9 312.7C455.5 312.1 459.6 312.7 463 312.7L463 396.8 L335.2 396.8 Z" fill="#C5D900"/><path d="M335.2 374.5C338.6 374.5 342.1 375.3 345.4 374.5C348.7 373.7 351.4 371.2 355 369.7C358.6 368.2 362.4 366.8 367.1 365.7C371.8 364.6 377.9 363.9 383.2 362.9C388.5 361.9 394.5 361 399.2 359.7C403.9 358.4 407.3 357.1 411.3 355.3C415.3 353.5 419.3 351.1 423.3 348.8C427.3 346.5 431.4 344 435.4 341.6C439.4 339.2 444.5 335.9 447.4 334.2C450.3 332.5 450.3 331.7 452.9 331.2C455.5 330.7 459.6 331.2 463 331.2L463 396.8 L335.2 396.8 Z" fill="#D99D00"/><path d="M357.9 390.1C360.3 388.9 362.2 388 365.1 386.6C368 385.2 371.4 383.2 375.1 381.8C378.8 380.4 383.2 379.5 387.2 378.4C391.2 377.3 395.2 376.6 399.2 375.3C403.2 374.1 407.3 372.6 411.3 370.9C415.3 369.2 419.3 367.1 423.3 364.9C427.3 362.7 431.4 360.1 435.4 357.7C439.4 355.2 444.5 352 447.4 350.2C450.3 348.4 450.8 348.1 452.9 346.8C455 345.5 457.4 344 459.7 342.6L463 396.8 Z" fill="#D94F00"/><path d="M422 389.6C424.4 388.6 426.8 387.6 429.4 386.6C432 385.6 434.7 384.6 437.4 383.4C440.1 382.2 442.8 380.9 445.4 379.4C448 377.9 450.5 375.9 452.9 374.3C455.3 372.7 457.3 371.3 459.5 369.8L463 396.8 Z" fill="#D90000"/></g><g filter="url(#b2)"><rect x="393.3" y="297.9" width="11.8" height="22" rx="5.9" ry="8.6" fill="#00D976"/><rect x="395.2" y="300.6" width="8" height="18" rx="4" ry="5.8" fill="#00D9C5" fill-opacity="0.8"/><rect x="397.3" y="304.7" width="3.8" height="9.6" rx="1.9" ry="2.8" fill="#009DD9" fill-opacity="0.6"/></g><g filter="url(#b3)"><rect x="398.3" y="244.1" width="1.8" height="71.3" fill="#0A36A6"/><rect x="399.4" y="244.1" width="0.8" height="60.8" fill="#1148BE"/><path d="M397.4 313.9 L401 313.9 L399.2 317.1 Z" fill="#0A2A8C"/><path d="M397.3 304.9 L401.1 304.9 L400.2 306.7 L398.2 306.7 Z" fill="#0A2A8C"/></g><rect x="345.5" y="246.4" width="107.2" height="140.1" fill="none" stroke="#000" stroke-opacity="0.22" stroke-width="0.8"/></g>
<g clip-path="url(#k10)"><g filter="url(#b)"><rect x="458.2" y="243" width="113.3" height="146.8" fill="#C5D900"/><path d="M470.9 238.3C470.4 240.9 470.2 241.8 469.3 246.1C468.4 250.4 466.4 258 465.5 264.2C464.6 270.4 464.1 277.4 463.9 283.2C463.7 289 463.6 294.3 464.5 299.1C465.4 303.9 466.7 307.8 469.3 311.8C471.9 315.8 475.9 319.5 480.4 322.9C484.9 326.3 490.9 330.1 496.2 332.4C501.5 334.7 507.3 336.2 512.1 336.5C516.9 336.8 520.8 335.8 524.8 334C528.8 332.2 532.2 329.4 535.9 326C539.6 322.6 543 317.6 547 313.4C551 309.2 556.2 303.9 559.7 300.7C563.2 297.5 565.7 296.2 568.2 294.3C570.7 292.4 572.5 291.1 574.6 289.5L578.5 236 Z" fill="#76D900"/><path d="M502.6 238.5C501.8 241 501.3 242.7 500.2 246.1C499.1 249.5 497.1 254.6 496.2 259.1C495.3 263.6 494.8 268.4 494.7 273.1C494.6 277.8 495 282.5 495.6 287.2C496.2 291.9 497.1 297 498.2 301.2C499.3 305.4 500.7 309.1 502.2 312.3C503.7 315.5 505.4 318.2 507.2 320.3C509 322.4 511.2 324.1 513.2 324.6C515.2 325.1 517.4 324.5 519.3 323.3C521.1 322.1 523 320 524.3 317.3C525.6 314.6 526.3 311 527.3 307.3C528.3 303.6 529.1 299.2 530.3 295.2C531.5 291.2 532.6 287.2 534.3 283.2C536 279.2 538.3 274.8 540.3 271.1C542.3 267.4 544.7 264.3 546.4 261.1C548.1 257.9 549.6 254.5 550.4 252C551.2 249.5 551 248.4 551.4 246.1C551.8 243.8 552.3 240.8 552.7 238.2L552.7 236 L502.6 236 Z" fill="#27D900"/><path d="M451.2 365.3C454.5 365.3 457.7 365.8 461 365.3C464.3 364.8 467.4 363.3 471.1 362.3C474.8 361.3 478.4 360.3 483.1 359.3C487.8 358.3 493.8 357.5 499.2 356.3C504.6 355.1 510.5 353.7 515.2 352.2C519.9 350.7 523.3 349.2 527.3 347.2C531.3 345.2 535.3 342.5 539.3 340.2C543.3 337.9 547.4 335.5 551.4 333.2C555.4 330.9 560.5 327.8 563.4 326.1C566.3 324.4 566.4 323.6 568.9 323.1C571.4 322.6 575.3 323.1 578.5 323.1L578.5 396.8 L451.2 396.8 Z" fill="#D99D00"/><path d="M466.9 390C469.3 388.9 471.1 388 474.1 386.6C477.1 385.2 480.9 383.1 485.1 381.4C489.3 379.7 494.5 377.8 499.2 376.3C503.9 374.8 508.5 373.8 513.2 372.3C517.9 370.8 522.9 369.1 527.3 367.3C531.6 365.5 535.3 363.5 539.3 361.3C543.3 359.1 547.4 356.4 551.4 354.2C555.4 352 560.5 349.7 563.4 348.2C566.3 346.7 566.8 346.3 568.9 345.2C571 344.1 573.6 342.6 575.9 341.4L578.5 396.8 Z" fill="#D94F00"/><path d="M529 390C531.5 388.8 533.6 387.9 536.3 386.6C539 385.3 542.2 383.9 545.4 382.4C548.6 380.8 552.4 379 555.4 377.3C558.4 375.6 561.1 373.6 563.4 372.3C565.6 371 566.8 370.4 568.9 369.3C571 368.2 573.6 366.7 575.9 365.5L578.5 396.8 Z" fill="#D90000"/></g><g filter="url(#b2)"><rect x="508.4" y="295" width="13.2" height="26.2" rx="6.6" ry="9.6" fill="#00D927"/><rect x="509.8" y="298.1" width="10.4" height="22.4" rx="5.2" ry="7.5" fill="#00D976"/><rect x="511" y="300.7" width="8" height="19" rx="4" ry="5.8" fill="#00D9C5" fill-opacity="0.8"/><rect x="513" y="304.3" width="4" height="11.2" rx="2" ry="2.9" fill="#009DD9" fill-opacity="0.6"/></g><g filter="url(#b3)"><rect x="514.1" y="244" width="1.8" height="71.4" fill="#0A36A6"/><rect x="515.1" y="244" width="0.7" height="60.9" fill="#1148BE"/><path d="M513.2 313.9 L516.8 313.9 L515 317.1 Z" fill="#0A2A8C"/><path d="M513.1 304.9 L516.9 304.9 L516 306.7 L514 306.7 Z" fill="#0A2A8C"/></g><rect x="461.5" y="246.3" width="106.7" height="140.2" fill="none" stroke="#000" stroke-opacity="0.22" stroke-width="0.8"/></g>
<g clip-path="url(#k11)"><g filter="url(#b)"><rect x="573.3" y="243" width="113.3" height="146.8" fill="#D99D00"/><path d="M570 240 L580 240 L579.6 246.1 L577.8 250.5 L576.4 253.5 L570 255Z" fill="#D94F00"/><path d="M609.1 238.9C607.9 241.3 607.4 242.4 605.6 246.1C603.8 249.8 600.3 255.3 598.3 261C596.3 266.7 594.5 273.8 593.5 280.1C592.5 286.5 591.9 292.9 592 299.1C592.1 305.3 592.9 312.4 594.1 317.1C595.3 321.8 596.8 324.1 599.1 327.1C601.5 330.1 605 333 608.2 335.2C611.4 337.4 614.9 339.1 618.2 340.2C621.5 341.3 624.9 341.7 628.2 341.6C631.6 341.5 634.9 340.8 638.3 339.6C641.6 338.4 645.3 336.3 648.3 334.2C651.3 332.1 654 329.6 656.4 327.1C658.8 324.6 660.4 321.8 662.4 319.1C664.4 316.4 666.2 313.6 668.4 311.1C670.6 308.6 672.8 306.4 675.4 304C678 301.6 681.5 299 683.9 297C686.3 295 688 293.6 690.1 291.9L693.6 236 Z" fill="#C5D900"/><path d="M630 269C628.4 269.6 625.8 270.8 623.7 273.7C621.6 276.6 618.7 282.2 617.3 286.4C615.9 290.6 615.2 294.9 615.1 299.1C615 303.3 615.4 307.8 616.4 311.8C617.4 315.8 619.4 320.4 621.4 322.9C623.4 325.4 625.9 326.7 628.4 327C630.9 327.3 634 326.8 636.4 324.5C638.8 322.2 641.4 317.6 642.7 313.4C644 309.2 644.3 303.6 644.3 299.1C644.3 294.6 643.7 290.4 642.7 286.4C641.8 282.4 640.2 278.1 638.6 275.3C637 272.6 634.6 270.9 633.2 269.9C631.8 268.8 631.6 268.4 630 269Z" fill="#76D900"/><path d="M575.8 392.7C577.5 390.7 578.9 389 581 386.6C583.1 384.2 585.2 380.7 588.1 378.3C591 375.9 594.1 374 598.1 372.3C602.1 370.6 607.2 369.6 612.2 368.3C617.2 367 623.2 365.8 628.2 364.3C633.2 362.8 637.9 361.3 642.3 359.3C646.6 357.3 650.6 354.6 654.3 352.2C658 349.8 661 347.5 664.4 345.2C667.8 342.9 671.1 340.4 674.4 338.2C677.6 336 681.2 333.9 683.9 332.2C686.6 330.5 688.4 329.4 690.7 327.9L693.6 396.8 Z" fill="#D94F00"/><path d="M634.3 390.5C636.7 389.2 638.3 388.3 641.3 386.6C644.3 384.9 648.8 382.4 652.3 380.4C655.8 378.3 659 376.3 662.4 374.3C665.8 372.3 668.8 370.5 672.4 368.3C676 366.1 680.8 363.2 683.9 361.3C687 359.4 688.5 358.5 690.7 357.1L693.6 396.8 Z" fill="#D90000"/></g><g filter="url(#b2)"><rect x="622.7" y="295" width="14.4" height="26.6" rx="7.2" ry="10.4" fill="#27D900"/><rect x="625.6" y="300.7" width="8.6" height="19" rx="4.3" ry="6.2" fill="#00D976" fill-opacity="0.8"/><rect x="627" y="303.6" width="5.8" height="14.8" rx="2.9" ry="4.2" fill="#00D9C5" fill-opacity="0.6"/></g><g filter="url(#b3)"><rect x="629.1" y="244" width="1.7" height="71.4" fill="#155CA8"/><rect x="630.1" y="244" width="0.7" height="60.9" fill="#2486B4"/><path d="M628.2 313.9 L631.7 313.9 L630 317.1 Z" fill="#0A2A8C"/><path d="M628.1 304.9 L631.8 304.9 L630.9 306.7 L629 306.7 Z" fill="#0A2A8C"/></g><rect x="576.6" y="246.3" width="106.7" height="140.2" fill="none" stroke="#000" stroke-opacity="0.22" stroke-width="0.8"/></g>
<rect x="22" y="172.8" width="6.4" height="6.6" fill="#FF0000"/><rect x="28.1" y="172.8" width="6.4" height="6.6" fill="#FF5D00"/><rect x="34.2" y="172.8" width="6.4" height="6.6" fill="#FFB900"/><rect x="40.3" y="172.8" width="6.4" height="6.6" fill="#E8FF00"/><rect x="46.4" y="172.8" width="6.4" height="6.6" fill="#8BFF00"/><rect x="52.5" y="172.8" width="6.4" height="6.6" fill="#2EFF00"/><rect x="58.5" y="172.8" width="6.4" height="6.6" fill="#00FF2E"/><rect x="64.6" y="172.8" width="6.4" height="6.6" fill="#00FF8B"/><rect x="70.7" y="172.8" width="6.4" height="6.6" fill="#00FFE8"/><rect x="76.8" y="172.8" width="6.4" height="6.6" fill="#00B9FF"/><rect x="82.9" y="172.8" width="6.4" height="6.6" fill="#005DFF"/><rect x="89" y="172.8" width="6.1" height="6.6" fill="#0000FF"/>
<rect x="137" y="172.8" width="6.4" height="6.6" fill="#FF0000"/><rect x="143.1" y="172.8" width="6.4" height="6.6" fill="#FF5D00"/><rect x="149.2" y="172.8" width="6.4" height="6.6" fill="#FFB900"/><rect x="155.4" y="172.8" width="6.4" height="6.6" fill="#E8FF00"/><rect x="161.5" y="172.8" width="6.4" height="6.6" fill="#8BFF00"/><rect x="167.6" y="172.8" width="6.4" height="6.6" fill="#2EFF00"/><rect x="173.8" y="172.8" width="6.4" height="6.6" fill="#00FF2E"/><rect x="179.9" y="172.8" width="6.4" height="6.6" fill="#00FF8B"/><rect x="186" y="172.8" width="6.4" height="6.6" fill="#00FFE8"/><rect x="192.1" y="172.8" width="6.4" height="6.6" fill="#00B9FF"/><rect x="198.2" y="172.8" width="6.4" height="6.6" fill="#005DFF"/><rect x="204.4" y="172.8" width="6.1" height="6.6" fill="#0000FF"/>
<rect x="252.6" y="172.8" width="6.4" height="6.6" fill="#FF0000"/><rect x="258.7" y="172.8" width="6.4" height="6.6" fill="#FF5D00"/><rect x="264.8" y="172.8" width="6.4" height="6.6" fill="#FFB900"/><rect x="270.9" y="172.8" width="6.4" height="6.6" fill="#E8FF00"/><rect x="277" y="172.8" width="6.4" height="6.6" fill="#8BFF00"/><rect x="283.1" y="172.8" width="6.4" height="6.6" fill="#2EFF00"/><rect x="289.2" y="172.8" width="6.4" height="6.6" fill="#00FF2E"/><rect x="295.3" y="172.8" width="6.4" height="6.6" fill="#00FF8B"/><rect x="301.4" y="172.8" width="6.4" height="6.6" fill="#00FFE8"/><rect x="307.5" y="172.8" width="6.4" height="6.6" fill="#00B9FF"/><rect x="313.6" y="172.8" width="6.4" height="6.6" fill="#005DFF"/><rect x="319.7" y="172.8" width="6.1" height="6.6" fill="#0000FF"/>
<rect x="367.8" y="172.8" width="6.4" height="6.6" fill="#FF0000"/><rect x="373.9" y="172.8" width="6.4" height="6.6" fill="#FF5D00"/><rect x="380" y="172.8" width="6.4" height="6.6" fill="#FFB900"/><rect x="386.1" y="172.8" width="6.4" height="6.6" fill="#E8FF00"/><rect x="392.2" y="172.8" width="6.4" height="6.6" fill="#8BFF00"/><rect x="398.3" y="172.8" width="6.4" height="6.6" fill="#2EFF00"/><rect x="404.4" y="172.8" width="6.4" height="6.6" fill="#00FF2E"/><rect x="410.5" y="172.8" width="6.4" height="6.6" fill="#00FF8B"/><rect x="416.6" y="172.8" width="6.4" height="6.6" fill="#00FFE8"/><rect x="422.7" y="172.8" width="6.4" height="6.6" fill="#00B9FF"/><rect x="428.8" y="172.8" width="6.4" height="6.6" fill="#005DFF"/><rect x="434.9" y="172.8" width="6.1" height="6.6" fill="#0000FF"/>
<rect x="483.1" y="172.8" width="6.4" height="6.6" fill="#FF0000"/><rect x="489.2" y="172.8" width="6.4" height="6.6" fill="#FF5D00"/><rect x="495.3" y="172.8" width="6.4" height="6.6" fill="#FFB900"/><rect x="501.4" y="172.8" width="6.4" height="6.6" fill="#E8FF00"/><rect x="507.5" y="172.8" width="6.4" height="6.6" fill="#8BFF00"/><rect x="513.6" y="172.8" width="6.4" height="6.6" fill="#2EFF00"/><rect x="519.8" y="172.8" width="6.4" height="6.6" fill="#00FF2E"/><rect x="525.9" y="172.8" width="6.4" height="6.6" fill="#00FF8B"/><rect x="532" y="172.8" width="6.4" height="6.6" fill="#00FFE8"/><rect x="538.1" y="172.8" width="6.4" height="6.6" fill="#00B9FF"/><rect x="544.2" y="172.8" width="6.4" height="6.6" fill="#005DFF"/><rect x="550.3" y="172.8" width="6.1" height="6.6" fill="#0000FF"/>
<rect x="597.9" y="172.8" width="6.4" height="6.6" fill="#FF0000"/><rect x="604" y="172.8" width="6.4" height="6.6" fill="#FF5D00"/><rect x="610.1" y="172.8" width="6.4" height="6.6" fill="#FFB900"/><rect x="616.2" y="172.8" width="6.4" height="6.6" fill="#E8FF00"/><rect x="622.3" y="172.8" width="6.4" height="6.6" fill="#8BFF00"/><rect x="628.4" y="172.8" width="6.4" height="6.6" fill="#2EFF00"/><rect x="634.5" y="172.8" width="6.4" height="6.6" fill="#00FF2E"/><rect x="640.5" y="172.8" width="6.4" height="6.6" fill="#00FF8B"/><rect x="646.6" y="172.8" width="6.4" height="6.6" fill="#00FFE8"/><rect x="652.7" y="172.8" width="6.4" height="6.6" fill="#00B9FF"/><rect x="658.8" y="172.8" width="6.4" height="6.6" fill="#005DFF"/><rect x="664.9" y="172.8" width="6.1" height="6.6" fill="#0000FF"/>
<rect x="21.9" y="418.2" width="6.4" height="6.5" fill="#FF0000"/><rect x="28" y="418.2" width="6.4" height="6.5" fill="#FF5D00"/><rect x="34.1" y="418.2" width="6.4" height="6.5" fill="#FFB900"/><rect x="40.2" y="418.2" width="6.4" height="6.5" fill="#E8FF00"/><rect x="46.3" y="418.2" width="6.4" height="6.5" fill="#8BFF00"/><rect x="52.4" y="418.2" width="6.4" height="6.5" fill="#2EFF00"/><rect x="58.5" y="418.2" width="6.4" height="6.5" fill="#00FF2E"/><rect x="64.6" y="418.2" width="6.4" height="6.5" fill="#00FF8B"/><rect x="70.7" y="418.2" width="6.4" height="6.5" fill="#00FFE8"/><rect x="76.8" y="418.2" width="6.4" height="6.5" fill="#00B9FF"/><rect x="82.9" y="418.2" width="6.4" height="6.5" fill="#005DFF"/><rect x="89" y="418.2" width="6.1" height="6.5" fill="#0000FF"/>
<rect x="137.5" y="418.2" width="6.4" height="6.5" fill="#FF0000"/><rect x="143.6" y="418.2" width="6.4" height="6.5" fill="#FF5D00"/><rect x="149.7" y="418.2" width="6.4" height="6.5" fill="#FFB900"/><rect x="155.8" y="418.2" width="6.4" height="6.5" fill="#E8FF00"/><rect x="161.9" y="418.2" width="6.4" height="6.5" fill="#8BFF00"/><rect x="168" y="418.2" width="6.4" height="6.5" fill="#2EFF00"/><rect x="174.1" y="418.2" width="6.4" height="6.5" fill="#00FF2E"/><rect x="180.2" y="418.2" width="6.4" height="6.5" fill="#00FF8B"/><rect x="186.3" y="418.2" width="6.4" height="6.5" fill="#00FFE8"/><rect x="192.4" y="418.2" width="6.4" height="6.5" fill="#00B9FF"/><rect x="198.5" y="418.2" width="6.4" height="6.5" fill="#005DFF"/><rect x="204.6" y="418.2" width="6.1" height="6.5" fill="#0000FF"/>
<rect x="252.8" y="418.2" width="6.4" height="6.5" fill="#FF0000"/><rect x="258.9" y="418.2" width="6.4" height="6.5" fill="#FF5D00"/><rect x="265" y="418.2" width="6.4" height="6.5" fill="#FFB900"/><rect x="271.1" y="418.2" width="6.4" height="6.5" fill="#E8FF00"/><rect x="277.2" y="418.2" width="6.4" height="6.5" fill="#8BFF00"/><rect x="283.3" y="418.2" width="6.4" height="6.5" fill="#2EFF00"/><rect x="289.4" y="418.2" width="6.4" height="6.5" fill="#00FF2E"/><rect x="295.4" y="418.2" width="6.4" height="6.5" fill="#00FF8B"/><rect x="301.5" y="418.2" width="6.4" height="6.5" fill="#00FFE8"/><rect x="307.6" y="418.2" width="6.4" height="6.5" fill="#00B9FF"/><rect x="313.7" y="418.2" width="6.4" height="6.5" fill="#005DFF"/><rect x="319.8" y="418.2" width="6.1" height="6.5" fill="#0000FF"/>
<rect x="367.8" y="418.2" width="6.4" height="6.5" fill="#FF0000"/><rect x="373.9" y="418.2" width="6.4" height="6.5" fill="#FF5D00"/><rect x="380" y="418.2" width="6.4" height="6.5" fill="#FFB900"/><rect x="386.1" y="418.2" width="6.4" height="6.5" fill="#E8FF00"/><rect x="392.2" y="418.2" width="6.4" height="6.5" fill="#8BFF00"/><rect x="398.3" y="418.2" width="6.4" height="6.5" fill="#2EFF00"/><rect x="404.4" y="418.2" width="6.4" height="6.5" fill="#00FF2E"/><rect x="410.5" y="418.2" width="6.4" height="6.5" fill="#00FF8B"/><rect x="416.6" y="418.2" width="6.4" height="6.5" fill="#00FFE8"/><rect x="422.7" y="418.2" width="6.4" height="6.5" fill="#00B9FF"/><rect x="428.8" y="418.2" width="6.4" height="6.5" fill="#005DFF"/><rect x="434.9" y="418.2" width="6.1" height="6.5" fill="#0000FF"/>
<rect x="483.1" y="418.2" width="6.4" height="6.5" fill="#FF0000"/><rect x="489.2" y="418.2" width="6.4" height="6.5" fill="#FF5D00"/><rect x="495.3" y="418.2" width="6.4" height="6.5" fill="#FFB900"/><rect x="501.4" y="418.2" width="6.4" height="6.5" fill="#E8FF00"/><rect x="507.5" y="418.2" width="6.4" height="6.5" fill="#8BFF00"/><rect x="513.6" y="418.2" width="6.4" height="6.5" fill="#2EFF00"/><rect x="519.8" y="418.2" width="6.4" height="6.5" fill="#00FF2E"/><rect x="525.9" y="418.2" width="6.4" height="6.5" fill="#00FF8B"/><rect x="532" y="418.2" width="6.4" height="6.5" fill="#00FFE8"/><rect x="538.1" y="418.2" width="6.4" height="6.5" fill="#00B9FF"/><rect x="544.2" y="418.2" width="6.4" height="6.5" fill="#005DFF"/><rect x="550.3" y="418.2" width="6.1" height="6.5" fill="#0000FF"/>
<rect x="597.9" y="418.2" width="6.4" height="6.5" fill="#FF0000"/><rect x="604" y="418.2" width="6.4" height="6.5" fill="#FF5D00"/><rect x="610.1" y="418.2" width="6.4" height="6.5" fill="#FFB900"/><rect x="616.2" y="418.2" width="6.4" height="6.5" fill="#E8FF00"/><rect x="622.3" y="418.2" width="6.4" height="6.5" fill="#8BFF00"/><rect x="628.4" y="418.2" width="6.4" height="6.5" fill="#2EFF00"/><rect x="634.5" y="418.2" width="6.4" height="6.5" fill="#00FF2E"/><rect x="640.5" y="418.2" width="6.4" height="6.5" fill="#00FF8B"/><rect x="646.6" y="418.2" width="6.4" height="6.5" fill="#00FFE8"/><rect x="652.7" y="418.2" width="6.4" height="6.5" fill="#00B9FF"/><rect x="658.8" y="418.2" width="6.4" height="6.5" fill="#005DFF"/><rect x="664.9" y="418.2" width="6.1" height="6.5" fill="#0000FF"/>
</svg>
<div class="a" style="left:55.6px;top:151.8px"><i>α</i> = 0°</div>
<div class="a" style="left:170.6px;top:151.8px"><i>α</i> = 15°</div>
<div class="a" style="left:284.8px;top:151.8px"><i>α</i> = 30°</div>
<div class="a" style="left:399.6px;top:151.8px"><i>α</i> = 45°</div>
<div class="a" style="left:514px;top:151.8px"><i>α</i> = 60°</div>
<div class="a" style="left:628.5px;top:151.8px"><i>α</i> = 75°</div>
<div class="a" style="left:55.6px;top:396.8px"><i>α</i> = 0°</div>
<div class="a" style="left:170.6px;top:396.8px"><i>α</i> = 15°</div>
<div class="a" style="left:284.8px;top:396.8px"><i>α</i> = 30°</div>
<div class="a" style="left:399.6px;top:396.8px"><i>α</i> = 45°</div>
<div class="a" style="left:514px;top:396.8px"><i>α</i> = 60°</div>
<div class="a" style="left:628.5px;top:396.8px"><i>α</i> = 75°</div>
<div class="v" style="left:14.9px;top:180.7px">3 mm</div>
<div class="v" style="left:126.9px;top:180.7px">-47 mm</div>
<div class="v" style="left:239.1px;top:180.7px">-41 mm</div>
<div class="v" style="left:356.9px;top:180.7px">-33 mm</div>
<div class="v" style="left:471.4px;top:180.7px">-25 mm</div>
<div class="v" style="left:585.2px;top:180.7px">-17 mm</div>
<div class="v r" style="left:102.1px;top:180.7px">-8 mm</div>
<div class="v r" style="left:220.6px;top:180.7px">-62 mm</div>
<div class="v r" style="left:332.8px;top:180.7px">-56 mm</div>
<div class="v r" style="left:451px;top:180.7px">-48 mm</div>
<div class="v r" style="left:564.8px;top:180.7px">-39 mm</div>
<div class="v r" style="left:680px;top:180.7px">-28 mm</div>
<div class="v" style="left:12.3px;top:426.1px">1.2 mm</div>
<div class="v" style="left:126.9px;top:426.1px">-23 mm</div>
<div class="v" style="left:239.1px;top:426.1px">-20 mm</div>
<div class="v" style="left:356.9px;top:426.1px">-16 mm</div>
<div class="v" style="left:471px;top:426.1px">-12 mm</div>
<div class="v" style="left:588.1px;top:426.1px">-8 mm</div>
<div class="v r" style="left:102.1px;top:426.1px">-8 mm</div>
<div class="v r" style="left:221px;top:426.1px">-36 mm</div>
<div class="v r" style="left:333px;top:426.1px">-33 mm</div>
<div class="v r" style="left:451px;top:426.1px">-29 mm</div>
<div class="v r" style="left:564.8px;top:426.1px">-24 mm</div>
<div class="v r" style="left:680px;top:426.1px">-18 mm</div>
<div class="c" style="left:290.6px;top:213.1px">(a) El-Centro wave</div>
<div class="c" style="left:303px;top:455.4px">(b) Kobe wave</div>
</body></html>
